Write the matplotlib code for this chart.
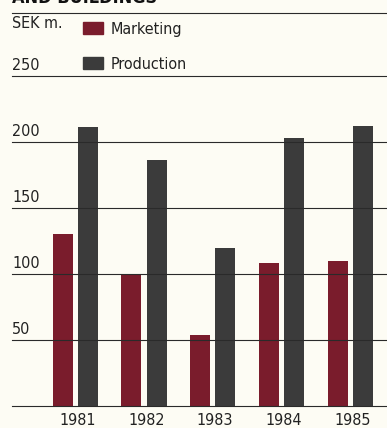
import numpy as np
import matplotlib.pyplot as plt
from matplotlib.lines import Line2D
from matplotlib.patches import Rectangle
from matplotlib import font_manager

# Investment in marketing and production, SEK m.
years = ['1981', '1982', '1983', '1984', '1985']
marketing = [130, 100, 54, 108, 110]
production = [211, 186, 120, 203, 212]

bg = '#fdfcf4'
col_mkt = '#7a1c2c'
col_prod = '#3b3b3b'

# pick a narrow face if one is around
names = {f.name for f in font_manager.fontManager.ttflist}
narrow = [n for n in ['Liberation Sans Narrow', 'DejaVu Sans Condensed'] if n in names]
cond = narrow + ['DejaVu Sans']
stretch = 'condensed'

fig = plt.figure(figsize=(3.87, 4.28), dpi=100, facecolor=bg)
W, H = 387, 428

# axes box in pixel terms: x from 12 to 387, y from 406 (0) to 76 (250)
ax = fig.add_axes([12 / W, (H - 406) / H, (W - 12) / W, (406 - 76) / H])
ax.set_facecolor(bg)

x = np.arange(len(years))
px = 68.75  # pixels per group
ax.set_xlim(-63.5 / px, 4 + 36.5 / px)
ax.set_ylim(0, 250)

w = 20 / px
ax.bar(x - 13 / px, marketing, width=w, color=col_mkt, zorder=2)
ax.bar(x + 12.5 / px, production, width=w, color=col_prod, zorder=2)

# horizontal rules across the bars
for v in [0, 50, 100, 150, 200, 250]:
    ax.axhline(v, color='#2a2a2a', lw=0.8, zorder=3, clip_on=False)

for s in ax.spines.values():
    s.set_visible(False)
ax.set_xticks([])
ax.set_yticks([])

for v in [50, 100, 150, 200, 250]:
    ax.text(-63.5 / px, v + 2.5, str(v), ha='left', va='bottom',
            fontsize=11.5, family=cond, fontstretch=stretch, color='#222222')

for i, yr in enumerate(years):
    ax.text(i + 2 / px, -5, yr, ha='center', va='top', fontsize=11.5,
            family=cond, fontstretch=stretch, color='#222222', clip_on=False)

# header: cut-off title, rule, unit and legend
fig.text(12 / W, (H - 3) / H, 'AND BUILDINGS', ha='left', va='baseline',
         fontsize=13, fontweight='bold', family=cond, fontstretch=stretch,
         color='#111111')
fig.add_artist(Line2D([12 / W, 1], [(H - 12.5) / H] * 2,
                      color='#2a2a2a', lw=0.8))
fig.text(12 / W, (H - 31) / H, 'SEK m.', ha='left', va='bottom',
         fontsize=11.5, family=cond, fontstretch=stretch, color='#222222')

legend_items = [('Marketing', col_mkt, 22), ('Production', col_prod, 57)]
for name, c, top in legend_items:
    fig.add_artist(Rectangle((83 / W, (H - top - 12) / H), 20 / W, 12 / H,
                             color=c, transform=fig.transFigure))
    fig.text(111 / W, (H - top - 15) / H, name, ha='left', va='bottom',
             fontsize=11.5, family=cond, fontstretch=stretch, color='#222222')

fig.savefig('out.png', dpi=100, facecolor=bg)
